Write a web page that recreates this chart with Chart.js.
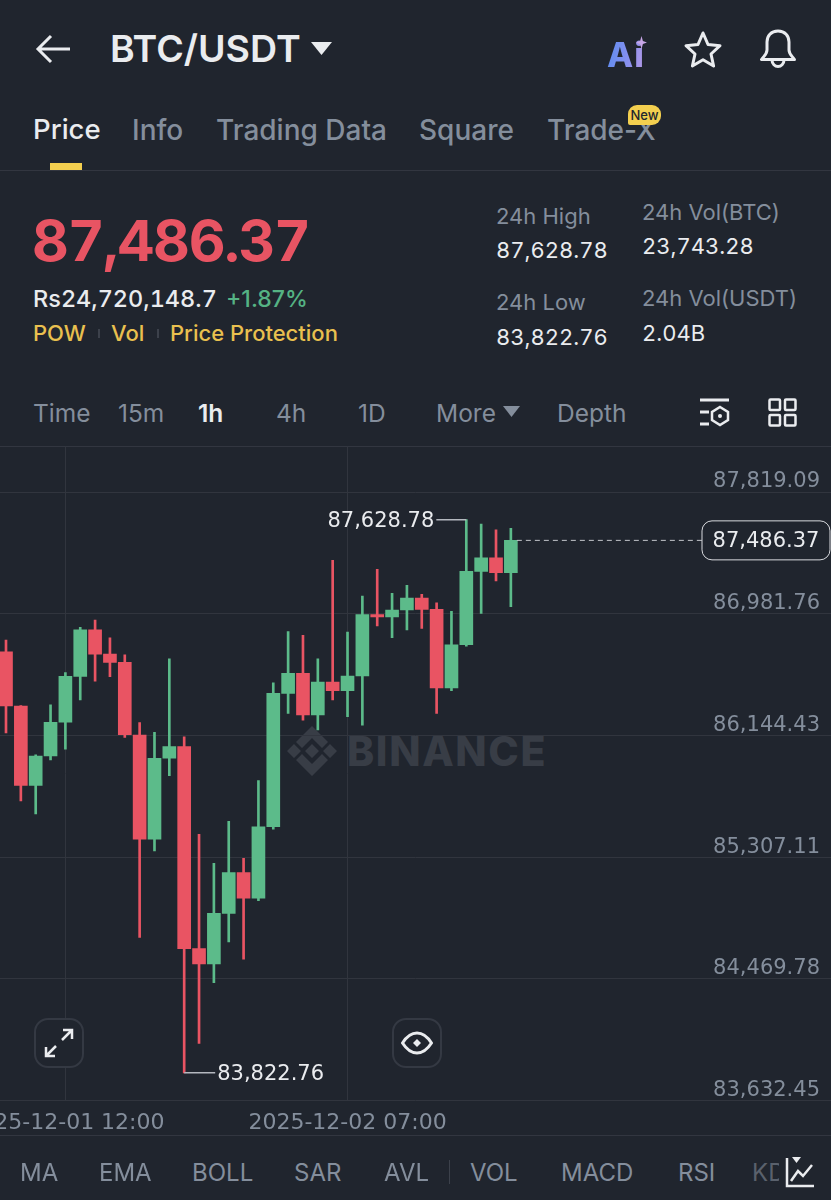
<!DOCTYPE html>
<html>
<head>
<meta charset="utf-8">
<title>BTC/USDT</title>
<script src="https://cdn.jsdelivr.net/npm/chart.js@4/dist/chart.umd.js"></script>
<style>
    html, body { margin: 0; padding: 0; background: #20252e; }
    #page { position: relative; width: 831px; height: 1200px; overflow: hidden; background: #20252e; font-family: Inter, "Noto Sans", sans-serif; }
    .t { position: absolute; white-space: nowrap; line-height: 1; transform: translateY(-50%); }
    .gray { color: #848e9c; }
    .white { color: #eaecef; }
    .yellow { color: #e9c04f; }
    .line { position: absolute; left: 0; width: 831px; height: 1px; background: #323640; }
    .ico { position: absolute; overflow: visible; }
    .btn { position: absolute; top: 1018px; width: 46px; height: 46px; border: 2px solid #343943; border-radius: 14px; background: #20252e; }
    #chartBox { position: absolute; left: 0; top: 446px; width: 831px; height: 689px; }
    #wm { position: absolute; left: 347px; top: 751px; font-size: 41px; font-weight: 800; color: #383d46; letter-spacing: 1.6px; }
    .tab { font-size: 28px; font-weight: 500; }
    .bar { font-size: 24.500px; }
    .ind { font-size: 24px; top: 1173px; }
    .val { font-size: 22px; font-variant-numeric: tabular-nums; }
</style>
</head>
<body>
<div id="page">
    <!-- header -->
    <svg class="ico" style="left:36px;top:34px" width="36" height="30" fill="none" stroke="#eaecef" stroke-width="3"><path d="M34 15H3M15 2L2 15l13 13"/></svg>
    <span class="t white" style="left:110px;top:49px;font-size:37.500px;font-weight:600">BTC/USDT</span>
    <svg class="ico" style="left:311px;top:42px" width="21" height="13"><path d="M0 0h21L10.500 13z" fill="#eaecef"/></svg>
    <span class="t" id="aiText" style="left:607px;top:55px;font-size:34px;font-weight:800;letter-spacing:1px;background:linear-gradient(100deg,#5a8cf0,#8a90ee 60%,#b79ae6);-webkit-background-clip:text;background-clip:text;color:transparent">Ai</span>
    <svg class="ico" style="left:636px;top:36px" width="11" height="13"><path d="M5.500 0l1.400 5L11 6.500 6.900 8 5.500 13 4.100 8 0 6.500 4.100 5z" fill="#c7a6e6"/></svg>
    <svg class="ico" style="left:684px;top:31px" width="38" height="36" fill="none" stroke="#eaecef" stroke-width="3" stroke-linejoin="round"><path d="M19 2l5 11.500 12 1.200-9 8.300 2.600 12L19 28.800 8.400 35 11 23 2 14.700l12-1.200z"/></svg>
    <svg class="ico" style="left:759px;top:29px" width="38" height="39" fill="none" stroke="#eaecef" stroke-width="3" stroke-linejoin="round"><path d="M19 2c-7 0-11 5-11 11v8c0 4-3 6-5.500 9.500h33C33 27 30 25 30 21v-8c0-6-4-11-11-11z"/><path d="M13 31c0 4 3 6.500 6 6.500s6-2.500 6-6.500"/></svg>

    <!-- tabs -->
    <span class="t tab white" style="left:33px;top:130px;font-size:27.500px">Price</span>
    <span class="t tab gray" style="left:132px;top:130px">Info</span>
    <span class="t tab gray" style="left:216px;top:130px">Trading Data</span>
    <span class="t tab gray" style="left:419px;top:130px">Square</span>
    <span class="t tab gray" style="left:547px;top:130px">Trade-X</span>
    <span class="t" style="left:628px;top:115px;width:33px;height:20px;line-height:20px;background:#f3cf4f;color:#20252e;font-size:13px;font-weight:500;text-align:center;border-radius:9px 9px 9px 2px">New</span>
    <div style="position:absolute;left:50px;top:163px;width:32px;height:7px;background:#f3cf4f"></div>
    <div class="line" style="top:170px"></div>

    <!-- price block -->
    <span class="t" style="left:32px;top:240px;font-size:57px;font-weight:700;letter-spacing:-1.200px;color:#e85463;font-variant-numeric:tabular-nums">87,486.37</span>
    <span class="t white" style="left:33px;top:299px;font-size:23.500px;font-weight:500;font-variant-numeric:tabular-nums">Rs24,720,148.7</span>
    <span class="t" style="left:226px;top:299px;font-size:23px;font-weight:500;color:#55b384">+1.87%</span>
    <span class="t yellow" style="left:33px;top:333px;font-size:22px;font-weight:500">POW</span>
    <div style="position:absolute;left:98px;top:329px;width:2px;height:9px;background:#3c414b"></div>
    <span class="t yellow" style="left:111px;top:333px;font-size:22px;font-weight:500">Vol</span>
    <div style="position:absolute;left:157px;top:329px;width:2px;height:9px;background:#3c414b"></div>
    <span class="t yellow" style="left:170px;top:333px;font-size:22px;font-weight:500">Price Protection</span>

    <span class="t gray" style="left:496px;top:216px;font-size:22px">24h High</span>
    <span class="t white val" style="left:496px;top:250px">87,628.78</span>
    <span class="t gray" style="left:496px;top:302px;font-size:22px">24h Low</span>
    <span class="t white val" style="left:496px;top:337px">83,822.76</span>
    <span class="t gray" style="left:642px;top:212px;font-size:22px">24h Vol(BTC)</span>
    <span class="t white val" style="left:642px;top:246px">23,743.28</span>
    <span class="t gray" style="left:642px;top:298px;font-size:22px">24h Vol(USDT)</span>
    <span class="t white val" style="left:642px;top:333px">2.04B</span>

    <!-- interval bar -->
    <span class="t bar gray" style="left:33px;top:413px">Time</span>
    <span class="t bar gray" style="left:118px;top:413px">15m</span>
    <span class="t bar white" style="left:198px;top:413px;font-weight:600">1h</span>
    <span class="t bar gray" style="left:276px;top:413px">4h</span>
    <span class="t bar gray" style="left:358px;top:413px">1D</span>
    <span class="t bar gray" style="left:436px;top:413px">More</span>
    <svg class="ico" style="left:503px;top:406px" width="17" height="11"><path d="M0 0h17L8.500 11z" fill="#848e9c"/></svg>
    <span class="t bar gray" style="left:557px;top:413px">Depth</span>
    <svg class="ico" style="left:699px;top:398px" width="32" height="30" fill="none" stroke="#eaecef" stroke-width="3"><path d="M1 2h29M1 14h9M1 26h9"/><path d="M21 9l8 5v8l-8 5-8-5v-8z" stroke-width="2.500"/><circle cx="21" cy="18" r="2" fill="#eaecef" stroke="none"/></svg>
    <svg class="ico" style="left:768px;top:398px" width="29" height="29" fill="none" stroke="#eaecef" stroke-width="2.500"><rect x="1.500" y="1.500" width="10.500" height="10.500" rx="1"/><rect x="17" y="1.500" width="10.500" height="10.500" rx="1"/><rect x="1.500" y="17" width="10.500" height="10.500" rx="1"/><rect x="17" y="17" width="10.500" height="10.500" rx="1"/></svg>
    <div class="line" style="top:446px"></div>

    <!-- watermark behind the chart -->
    <svg class="ico" style="left:287px;top:726px" width="50" height="50" fill="#383d46"><path d="M25 18l7 7-7 7-7-7zM7 18l7 7-7 7-7-7zM43 18l7 7-7 7-7-7zM25 0l16 16-6 6-10-10-10 10-6-6zM25 50L9 34l6-6 10 10 10-10 6 6z"/></svg>
    <span class="t" id="wm">BINANCE</span>

    <div id="chartBox"><canvas id="klineChart"></canvas></div>

    <!-- floating buttons -->
    <div class="btn" style="left:34px"><svg style="position:absolute;left:8px;top:8px" width="30" height="30" fill="none" stroke="#eaecef" stroke-width="2.500"><path d="M18 12L28 2M19 2h9v9M12 18L2 28M11 28H2v-9"/></svg></div>
    <div class="btn" style="left:392px"><svg style="position:absolute;left:7px;top:10px" width="32" height="26" fill="none" stroke="#eaecef" stroke-width="3" stroke-linejoin="round"><path d="M1.500 13C6 6 10 3 16 3s10 3 14.500 10C26 20 22 23 16 23S6 20 1.500 13z"/><path d="M16 9l4 4-4 4-4-4z" fill="#eaecef" stroke="none"/></svg></div>

    <!-- indicator bar -->
    <div class="line" style="top:1135px"></div>
    <span class="t ind gray" style="left:20px">MA</span>
    <span class="t ind gray" style="left:99px">EMA</span>
    <span class="t ind gray" style="left:192px">BOLL</span>
    <span class="t ind gray" style="left:294px">SAR</span>
    <span class="t ind gray" style="left:384px">AVL</span>
    <div style="position:absolute;left:449px;top:1160px;width:1px;height:24px;background:#3c414b"></div>
    <span class="t ind gray" style="left:470px">VOL</span>
    <span class="t ind gray" style="left:561px">MACD</span>
    <span class="t ind gray" style="left:678px">RSI</span>
    <span class="t ind" style="left:752px;color:#5a616c">KDJ</span>
    <div style="position:absolute;left:779px;top:1150px;width:52px;height:50px;background:#20252e"></div>
    <svg class="ico" style="left:785px;top:1156px" width="30" height="32" fill="none" stroke="#eaecef" stroke-width="2.500"><path d="M2 2v28h27"/><path d="M6 25l7-10 5 5 9-11"/><path d="M7 1h9l-4.500 6z" fill="#eaecef" stroke="none"/></svg>
</div>

<script>
    // Precios, una vela por hora
    const opens  = [86720, 86347, 85801, 86003, 86235, 86551, 86870, 86704, 86647, 86147, 85430, 85987, 86067, 84677, 84572, 84920, 85200, 85024, 85516, 86434, 86572, 86285, 86512, 86452, 86553, 86975, 86959, 87007, 87090, 87012, 86471, 86768, 87273, 87367, 87264];
    const highs  = [86801, 86350, 86010, 86354, 86576, 86888, 86938, 86815, 86698, 86232, 86166, 86672, 86135, 85464, 85264, 85553, 85299, 85833, 86507, 86858, 86833, 86672, 87349, 86856, 87103, 87287, 87122, 87177, 87115, 87057, 86998, 87628.78, 87599, 87558, 87569];
    const lows   = [86161, 85693, 85604, 85975, 86049, 86388, 86517, 86548, 86131, 84755, 85349, 85867, 83822.76, 84026, 84443, 84723, 84604, 85007, 85500, 86296, 86250, 86182, 86388, 86273, 86214, 86897, 86817, 86870, 86881, 86296, 86452, 86759, 86984, 87207, 87030];
    const closes = [86347, 85801, 86003, 86235, 86551, 86870, 86704, 86647, 86149, 85430, 85987, 86067, 84677, 84572, 84920, 85200, 85024, 85516, 86434, 86572, 86285, 86512, 86452, 86553, 86975, 86959, 87007, 87090, 87012, 86471, 86768, 87273, 87367, 87264, 87486.37];

    const yTickValues = [87819.09, 86981.76, 86144.43, 85307.11, 84469.78, 83632.45];
    const xTickIndexes = [4, 23];
    const xTickLabels = ['2025-12-01 12:00', '2025-12-02 07:00'];

    const RED = '#e95463';
    const GREEN = '#5cbb8a';
    const CHART_FONT = '"DejaVu Sans", sans-serif';

    const fmt = (v) => v.toLocaleString('en-US', { minimumFractionDigits: 2, maximumFractionDigits: 2 });
    const candleColors = opens.map((o, i) => (closes[i] >= o ? GREEN : RED));

    // Etiquetas de maximo, minimo y ultimo precio
    const priceNotes = {
        id: 'priceNotes',
        afterDatasetsDraw(chart) {
            const { ctx, scales: { x, y }, width } = chart;
            const maxValue = Math.max(...highs);
            const minValue = Math.min(...lows);
            const maxX = x.getPixelForValue(highs.indexOf(maxValue));
            const maxY = y.getPixelForValue(maxValue);
            const minX = x.getPixelForValue(lows.indexOf(minValue));
            const minY = y.getPixelForValue(minValue);

            ctx.save();
            ctx.font = '21px ' + CHART_FONT;
            ctx.textBaseline = 'middle';
            ctx.strokeStyle = '#b4b8bf';
            ctx.lineWidth = 1.5;

            ctx.beginPath();
            ctx.moveTo(maxX, maxY);
            ctx.lineTo(maxX - 30, maxY);
            ctx.moveTo(minX, minY);
            ctx.lineTo(minX + 31, minY);
            ctx.stroke();

            ctx.fillStyle = '#eaecef';
            ctx.textAlign = 'right';
            ctx.fillText(fmt(maxValue), maxX - 32, maxY + 2);
            ctx.textAlign = 'left';
            ctx.fillText(fmt(minValue), minX + 33, minY + 2);

            // linea punteada hasta la caja del precio actual
            const last = closes[closes.length - 1];
            const lastX = x.getPixelForValue(closes.length - 1) + 6;
            const lastY = y.getPixelForValue(last);
            const boxW = 128;
            const boxH = 39;
            const boxX = width - boxW - 1;

            ctx.setLineDash([5, 4]);
            ctx.lineWidth = 1;
            ctx.strokeStyle = '#c4c7cc';
            ctx.beginPath();
            ctx.moveTo(lastX, lastY);
            ctx.lineTo(boxX, lastY);
            ctx.stroke();
            ctx.setLineDash([]);

            ctx.beginPath();
            ctx.roundRect(boxX, lastY - boxH / 2, boxW, boxH, 10);
            ctx.fillStyle = '#20252e';
            ctx.fill();
            ctx.strokeStyle = '#d8dade';
            ctx.stroke();

            ctx.fillStyle = '#eaecef';
            ctx.textAlign = 'center';
            ctx.fillText(fmt(last), boxX + boxW / 2, lastY + 1);
            ctx.restore();
        }
    };

    new Chart(document.getElementById('klineChart'), {
        type: 'bar',
        data: {
            datasets: [
                {
                    label: 'wick',
                    data: lows.map((l, i) => ({ x: i, y: [l, highs[i]] })),
                    backgroundColor: candleColors,
                    barThickness: 2,
                    grouped: false,
                    order: 2
                },
                {
                    label: 'body',
                    data: opens.map((o, i) => ({ x: i, y: [o, closes[i]] })),
                    backgroundColor: candleColors,
                    barThickness: 13,
                    grouped: false,
                    order: 1
                }
            ]
        },
        options: {
            responsive: true,
            maintainAspectRatio: false,
            animation: false,
            layout: { padding: 0 },
            plugins: {
                legend: { display: false },
                tooltip: { enabled: false }
            },
            scales: {
                x: {
                    type: 'linear',
                    offset: false,
                    min: -0.404,
                    max: 55.56,
                    border: { display: false },
                    grid: { color: '#31353e', drawTicks: false, offset: false },
                    ticks: {
                        autoSkip: false,
                        maxRotation: 0,
                        minRotation: 0,
                        padding: 10,
                        color: '#848e9c',
                        font: { family: CHART_FONT, size: 22 },
                        callback: (value) => xTickLabels[xTickIndexes.indexOf(value)]
                    },
                    afterBuildTicks(scale) {
                        scale.ticks = xTickIndexes.map((value) => ({ value }));
                    },
                    afterFit(scale) {
                        // que las etiquetas recortadas no encojan el grafico
                        scale.paddingLeft = 0;
                        scale.paddingRight = 0;
                        scale.height = 34.5;
                    }
                },
                y: {
                    position: 'right',
                    min: 83632.45,
                    max: 88135.6,
                    border: { display: false },
                    grid: { color: '#31353e', drawTicks: false },
                    ticks: {
                        mirror: true,
                        padding: -11,
                        labelOffset: -10,
                        color: '#848e9c',
                        font: { family: CHART_FONT, size: 21 },
                        callback: (value) => fmt(value)
                    },
                    afterBuildTicks(scale) {
                        scale.ticks = yTickValues.map((value) => ({ value }));
                    },
                    afterFit(scale) {
                        scale.paddingTop = 0;
                        scale.paddingBottom = 0;
                        scale.width = 0;
                    }
                }
            }
        },
        plugins: [priceNotes]
    });
</script>
</body>
</html>
